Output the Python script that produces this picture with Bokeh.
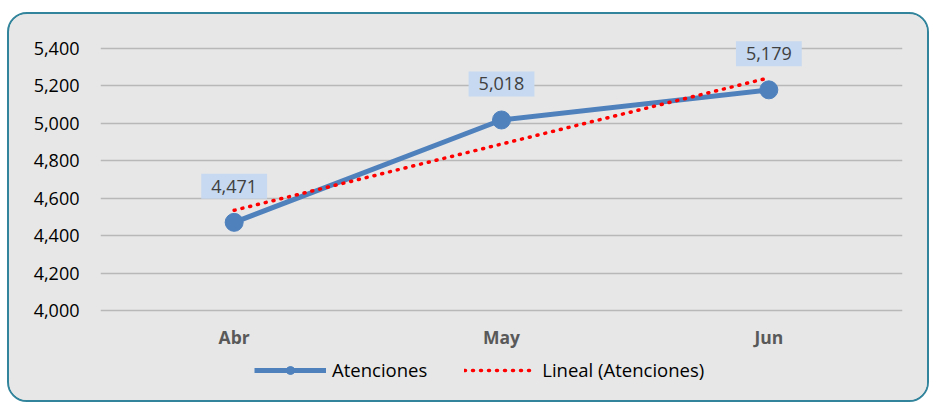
from bokeh.plotting import figure
from bokeh.models import (ColumnDataSource, Legend, LegendItem,
                          FixedTicker, NumeralTickFormatter, Range1d, FactorRange)
from bokeh.core.properties import value
from bokeh.embed import file_html
from bokeh.resources import INLINE

months = ["Abr", "May", "Jun"]
atenciones = [4471, 5018, 5179]
value_labels = ["4,471", "5,018", "5,179"]
y_ticks = [4000, 4200, 4400, 4600, 4800, 5000, 5200, 5400]
Y_MIN, Y_MAX = 4000, 5400

# Linear (least squares) trend of the series, as in the original "Lineal" trendline
n = len(atenciones)
xs = list(range(1, n + 1))
mx = sum(xs) / n
my = sum(atenciones) / n
slope = sum((x - mx) * (y - my) for x, y in zip(xs, atenciones)) / sum((x - mx) ** 2 for x in xs)
trend = [my + slope * (x - mx) for x in xs]

src = ColumnDataSource(dict(m=months, v=atenciones, t=trend, lab=value_labels))

FONT = "Open Sans"
BG = "#e7e7e7"
FS = "18px"

# layout: 262 px for the 4000..5400 band; the frame is extended above and below
# so that data labels, category labels and legend are not clipped by the frame
BAND_PX, TOP_PX, BOTTOM_PX = 262, 28, 84
unit = (Y_MAX - Y_MIN) / BAND_PX
y_start = Y_MIN - BOTTOM_PX * unit
y_end = Y_MAX + TOP_PX * unit

p = figure(width=922, height=390, x_range=FactorRange(*months),
           y_range=Range1d(y_start, y_end), output_backend="svg", toolbar_location=None,
           min_border_left=91, min_border_right=29, min_border_top=6, min_border_bottom=10)
p.x_range.range_padding = 0
p.background_fill_color = None
p.border_fill_color = BG
p.outline_line_color = None
p.styles = {"border": "2px solid #31849B", "border-radius": "20px", "overflow": "hidden",
            "margin-left": "7px", "margin-top": "12px", "background-color": BG}

p.xgrid.grid_line_color = None
p.ygrid.grid_line_color = "#b8b8b8"
p.ygrid.grid_line_width = 1.5

p.yaxis.ticker = FixedTicker(ticks=y_ticks)
p.yaxis.formatter = NumeralTickFormatter(format="0,0")
p.yaxis.axis_line_color = None
p.yaxis.major_tick_line_color = None
p.yaxis.minor_tick_line_color = None
p.yaxis.major_label_standoff = 15
p.yaxis.major_label_text_font = FONT
p.yaxis.major_label_text_font_size = FS
p.yaxis.major_label_text_color = "#000000"

p.xaxis.fixed_location = Y_MIN
p.xaxis.axis_line_color = None
p.xaxis.major_tick_line_color = None
p.xaxis.major_label_standoff = 8
p.xaxis.major_label_text_font = FONT
p.xaxis.major_label_text_font_size = "17.5px"
p.xaxis.major_label_text_font_style = "bold"
p.xaxis.major_label_text_color = "#595959"

line_r = p.line("m", "v", source=src, line_color="#4F81BD", line_width=5)
scat_r = p.scatter("m", "v", source=src, size=18, fill_color="#4F81BD", line_color="#4F81BD")
trend_r = p.line("m", "t", source=src, line_color="#FF0000", line_width=3.5,
                 line_dash="1 7", line_cap="round")

p.text("m", "v", text="lab", source=src, y_offset=-36,
       text_align="center", text_baseline="middle",
       text_font=value(FONT), text_font_size=FS, text_color="#404040",
       background_fill_color="#C6D9F1",
       padding=dict(left=10, right=10, top=6, bottom=6))

legend = Legend(items=[LegendItem(label="Atenciones", renderers=[line_r, scat_r]),
                       LegendItem(label="Lineal (Atenciones)", renderers=[trend_r])],
                orientation="horizontal", location=(154, 12),
                glyph_width=72, glyph_height=20, label_standoff=6, spacing=37,
                padding=0, margin=0, background_fill_alpha=0, border_line_alpha=0,
                label_text_font=FONT, label_text_font_size="18.5px", label_text_color="#000000")
p.add_layout(legend, "center")

open("out.html", "w").write(file_html(p, INLINE))
